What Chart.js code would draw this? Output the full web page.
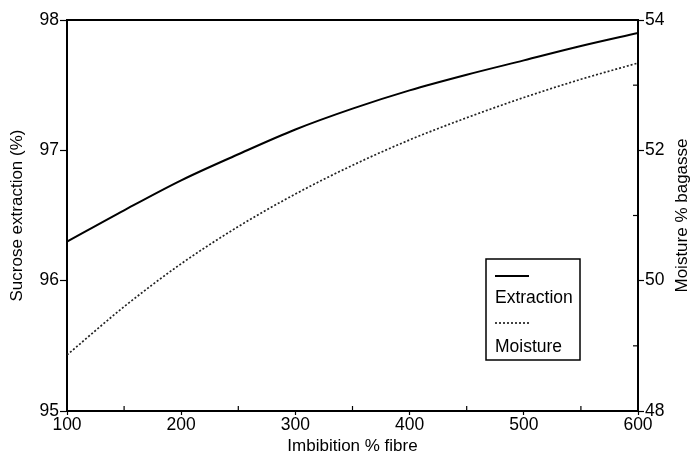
<!DOCTYPE html>
<html>
<head>
<meta charset="utf-8">
<script src="https://cdn.jsdelivr.net/npm/chart.js@4/dist/chart.umd.min.js"></script>
<style>
html,body{margin:0;padding:0;background:#fff;}
#wrap{width:694px;height:457px;}
</style>
</head>
<body>
<div id="wrap"><canvas id="c" width="694" height="457"></canvas></div>
<script>
const imbibition = [100, 150, 200, 250, 300, 350, 400, 450, 500, 550, 600];
const extraction = [96.30, 96.54, 96.77, 96.97, 97.16, 97.32, 97.46, 97.58, 97.69, 97.80, 97.90];
const moisture   = [48.86, 49.60, 50.26, 50.83, 51.33, 51.77, 52.16, 52.50, 52.81, 53.09, 53.34];
const xTicks = [100, 200, 300, 400, 500, 600];
const xMinorTicks = [150, 250, 350, 450, 550];
const leftTicks = [95, 96, 97, 98];
const rightTicks = [48, 50, 52, 54];
const rightMinorTicks = [49, 51, 53];
const xTitle = 'Imbibition % fibre';
const leftTitle = 'Sucrose extraction (%)';
const rightTitle = 'Moisture % bagasse';
const seriesNames = ['Extraction', 'Moisture'];

const FONT = '"Liberation Sans", Arial, Helvetica, sans-serif';
const INK = '#000';

const framePlugin = {
  id: 'frame',
  afterDraw(chart) {
    const ctx = chart.ctx;
    const a = chart.chartArea;
    const xs = chart.scales.x, yr = chart.scales.y2;
    ctx.save();
    ctx.strokeStyle = INK;
    ctx.lineWidth = 2;
    ctx.beginPath();
    ctx.moveTo(a.left - 1, a.top);
    ctx.lineTo(a.right + 1, a.top);
    ctx.stroke();
    ctx.lineWidth = 1.2;
    xMinorTicks.forEach(v => {
      const px = xs.getPixelForValue(v);
      ctx.beginPath(); ctx.moveTo(px, a.bottom); ctx.lineTo(px, a.bottom - 5); ctx.stroke();
    });
    rightMinorTicks.forEach(v => {
      const py = yr.getPixelForValue(v);
      ctx.beginPath(); ctx.moveTo(a.right, py); ctx.lineTo(a.right - 5, py); ctx.stroke();
    });
    ctx.fillStyle = INK;
    ctx.font = '17px ' + FONT;
    ctx.textAlign = 'center';
    ctx.textBaseline = 'middle';
    ctx.fillText(xTitle, (a.left + a.right) / 2, 446);
    ctx.save();
    ctx.translate(17, (a.top + a.bottom) / 2);
    ctx.rotate(-Math.PI / 2);
    ctx.fillText(leftTitle, 0, 0);
    ctx.restore();
    ctx.save();
    ctx.translate(682, (a.top + a.bottom) / 2);
    ctx.rotate(-Math.PI / 2);
    ctx.fillText(rightTitle, 0, 0);
    ctx.restore();
    const bx = 486, by = 259, bw = 94, bh = 101;
    ctx.lineWidth = 1.5;
    ctx.strokeRect(bx, by, bw, bh);
    const ds = chart.data.datasets;
    const rows = [276, 298, 323, 347];
    ctx.font = '17.5px ' + FONT;
    ctx.textAlign = 'left';
    for (let i = 0; i < ds.length; i++) {
      ctx.save();
      ctx.strokeStyle = ds[i].borderColor;
      ctx.lineWidth = ds[i].borderWidth;
      ctx.setLineDash(ds[i].borderDash || []);
      ctx.beginPath();
      ctx.moveTo(bx + 9, rows[i * 2]);
      ctx.lineTo(bx + 43, rows[i * 2]);
      ctx.stroke();
      ctx.restore();
      ctx.fillText(ds[i].label, bx + 9, rows[i * 2 + 1]);
    }
    ctx.restore();
  }
};

const pts = (ys) => imbibition.map((x, i) => ({ x: x, y: ys[i] }));

new Chart(document.getElementById('c'), {
  type: 'line',
  data: {
    datasets: [
      { label: seriesNames[0], data: pts(extraction), yAxisID: 'y', borderColor: INK, borderWidth: 2, pointRadius: 0, fill: false, cubicInterpolationMode: 'monotone' },
      { label: seriesNames[1], data: pts(moisture), yAxisID: 'y2', borderColor: '#222', borderWidth: 1.7, borderDash: [2, 2], pointRadius: 0, fill: false, cubicInterpolationMode: 'monotone' }
    ]
  },
  options: {
    responsive: false,
    animation: false,
    devicePixelRatio: 1,
    layout: { padding: { top: 20, left: 0, right: 0, bottom: 0 } },
    plugins: { legend: { display: false }, tooltip: { enabled: false } },
    scales: {
      x: {
        type: 'linear', position: 'bottom', min: 100, max: 600,
        afterBuildTicks: s => { s.ticks = xTicks.map(v => ({ value: v })); },
        afterFit: s => { s.height = 46; },
        ticks: { color: INK, font: { family: FONT, size: 17.5 }, padding: 0, maxRotation: 0 },
        grid: { drawOnChartArea: false, tickLength: 4, color: INK, tickWidth: 1.2 },
        border: { color: INK, width: 2 }
      },
      y: {
        position: 'left', min: 95, max: 98,
        afterBuildTicks: s => { s.ticks = leftTicks.map(v => ({ value: v })); },
        afterFit: s => { s.width = 67; },
        ticks: { color: INK, font: { family: FONT, size: 17.5 }, padding: 1 },
        grid: { drawOnChartArea: false, tickLength: 7, color: INK, tickWidth: 1.2 },
        border: { color: INK, width: 2 }
      },
      y2: {
        position: 'right', min: 48, max: 54,
        afterBuildTicks: s => { s.ticks = rightTicks.map(v => ({ value: v })); },
        afterFit: s => { s.width = 56; },
        ticks: { color: INK, font: { family: FONT, size: 17.5 }, padding: 1 },
        grid: { drawOnChartArea: false, tickLength: 6, color: INK, tickWidth: 1.2 },
        border: { color: INK, width: 2 }
      }
    }
  },
  plugins: [framePlugin]
});
</script>
</body>
</html>
